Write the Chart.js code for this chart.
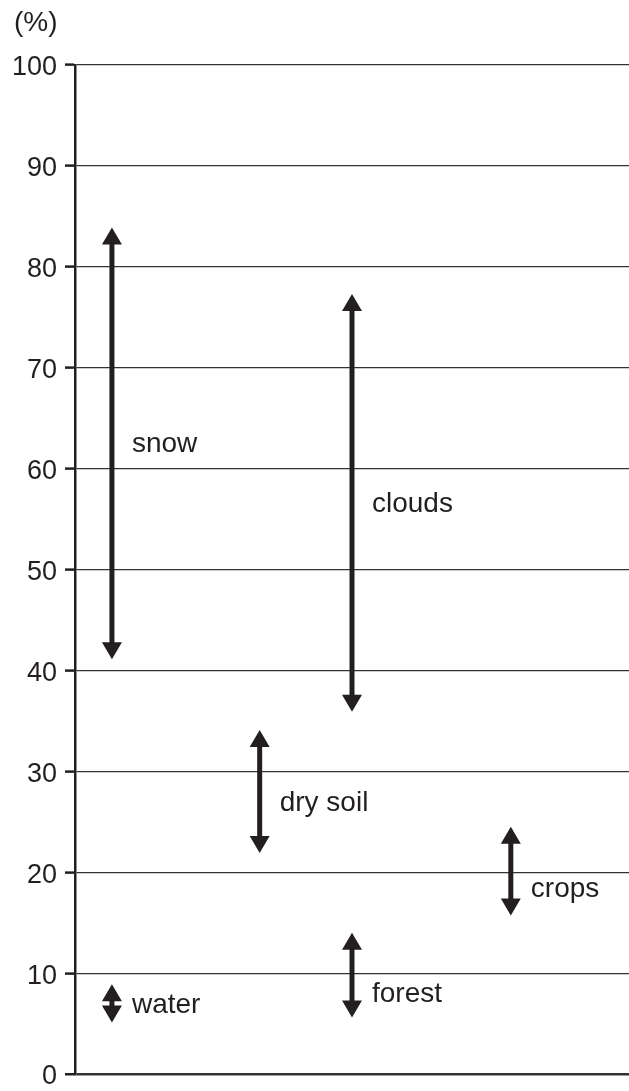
<!DOCTYPE html>
<html>
<head>
<meta charset="utf-8">
<script src="https://cdn.jsdelivr.net/npm/chart.js@4/dist/chart.umd.min.js"></script>
<style>
  html, body { margin: 0; padding: 0; background: #fff; }
  #wrap { width: 629px; height: 1091px; position: relative; }
</style>
</head>
<body>
<div id="wrap"><canvas id="chart"></canvas></div>
<script>
// albedo ranges (%) per surface type
const categories = ['snow', 'clouds', 'dry soil', 'crops', 'forest', 'water'];
const xPos       = [1, 7.5, 5, 11.8, 7.5, 1];
const lowValues  = [41.1, 35.9, 21.9, 15.7, 5.6, 5.1];
const highValues = [83.9, 77.3, 34.1, 24.5, 14.0, 8.9];
const labelValues = [62.7, 56.8, 27.1, 18.6, 8.2, 7.1];
const yTicks = [0, 10, 20, 30, 40, 50, 60, 70, 80, 90, 100];

const ink = '#231f20';
const font = '"Liberation Sans", Arial, Helvetica, sans-serif';

const arrows = {
  id: 'arrows',
  afterDatasetsDraw(chart) {
    const { ctx, scales: { x, y } } = chart;
    ctx.save();
    ctx.fillStyle = ink;
    const hl = 17, hw = 10;
    categories.forEach((name, i) => {
      const px = x.getPixelForValue(xPos[i]);
      const top = y.getPixelForValue(highValues[i]);
      const bot = y.getPixelForValue(lowValues[i]);
      if (bot - top > 2 * hl + 4) {
        ctx.fillRect(px - 2.5, top + hl - 1, 5, bot - top - 2 * hl + 2);
      }
      ctx.beginPath();
      ctx.moveTo(px, top);
      ctx.lineTo(px + hw, top + hl);
      ctx.lineTo(px - hw, top + hl);
      ctx.closePath();
      ctx.fill();
      ctx.beginPath();
      ctx.moveTo(px, bot);
      ctx.lineTo(px + hw, bot - hl);
      ctx.lineTo(px - hw, bot - hl);
      ctx.closePath();
      ctx.fill();
      ctx.font = '28px ' + font;
      ctx.textAlign = 'left';
      ctx.textBaseline = 'middle';
      ctx.fillText(name, px + 20, y.getPixelForValue(labelValues[i]) + 3);
    });
    ctx.font = '28px ' + font;
    ctx.textAlign = 'left';
    ctx.textBaseline = 'middle';
    ctx.fillText('(%)', 14, 23);
    ctx.restore();
  }
};

new Chart(document.getElementById('chart'), {
  type: 'scatter',
  data: {
    datasets: [{
      data: categories.map((c, i) => ({ x: xPos[i], y: highValues[i] })),
      pointRadius: 0,
      showLine: false
    }]
  },
  options: {
    responsive: true,
    maintainAspectRatio: false,
    animation: false,
    layout: { padding: { top: 65, bottom: 17, left: 0, right: 0 } },
    plugins: { legend: { display: false }, tooltip: { enabled: false } },
    scales: {
      x: { type: 'linear', min: 0, max: 15, display: false },
      y: {
        min: 0, max: 100,
        afterBuildTicks: (s) => { s.ticks = yTicks.map(v => ({ value: v })); },
        afterFit: (s) => { s.width = 75; s.paddingTop = 0; s.paddingBottom = 0; },
        ticks: { color: ink, font: { size: 27, family: font }, padding: 8, labelOffset: 3 },
        grid: {
          color: '#333',
          lineWidth: (c) => (c.tick && c.tick.value === 0 ? 2.5 : 1.2),
          tickLength: 10,
          tickWidth: 2.5,
          tickColor: ink
        },
        border: { display: true, color: ink, width: 2.5 }
      }
    }
  },
  plugins: [arrows]
});
</script>
</body>
</html>
